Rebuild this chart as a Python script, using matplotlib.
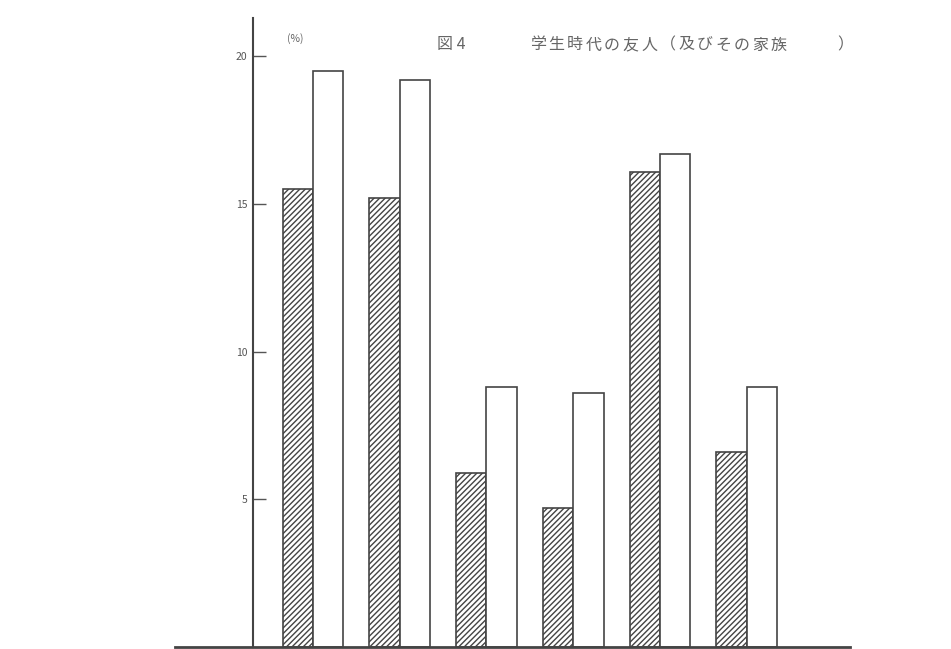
import matplotlib
matplotlib.use("Agg")
import matplotlib.pyplot as plt
import numpy as np

plt.rcParams['font.family'] = ['Noto Sans CJK JP', 'DejaVu Sans']

# 6 groups, hatched bar and white bar in each
groups = [1, 2, 3, 4, 5, 6]
hatched_vals = [15.5, 15.2, 5.9, 4.7, 16.1, 6.6]
white_vals = [19.5, 19.2, 8.8, 8.6, 16.7, 8.8]
yticks = [5, 10, 15, 20]
fig_label = "図 4"
title = "学生時代の友人（及びその家族）"

W, H = 951, 649
fig = plt.figure(figsize=(W / 100, H / 100), dpi=100)
ax = fig.add_axes([175 / W, 2 / H, (850 - 175) / W, (647 - 18) / H])

x = np.arange(len(groups))
w = 0.35
line_c = '#444444'
ax.bar(x - w / 2, hatched_vals, w, color='white', edgecolor=line_c,
       hatch='//////', linewidth=1.2)
ax.bar(x + w / 2, white_vals, w, color='white', edgecolor=line_c, linewidth=1.2)

ax.set_xlim(-1.59, 6.19)
ax.set_ylim(0, 21.3)

for s in ['top', 'right']:
    ax.spines[s].set_visible(False)
ax.spines['left'].set_position(('data', -0.692))
ax.spines['left'].set_color(line_c)
ax.spines['left'].set_linewidth(1.5)
ax.spines['bottom'].set_color(line_c)
ax.spines['bottom'].set_linewidth(2)

ax.set_xticks([])
ax.set_yticks(yticks)
ax.set_yticklabels([str(v) for v in yticks])
ax.tick_params(axis='y', direction='in', length=9, width=1, colors='#555555',
               labelsize=7.5, pad=4)

txt_c = '#666666'
ax.text(-0.2, 20.6, "(%)", fontsize=7.5, color=txt_c, ha='center', va='center')

# title, spaced out like the typeset original
ty = 1 - 45 / H
fig.text(451 / W, ty, fig_label, fontsize=11.5, color=txt_c, ha='center', va='center')
pitch = 18.5
for i, ch in enumerate(title):
    slot = i if i < len(title) - 1 else 16.6
    fig.text((538 + slot * pitch) / W, ty, ch, fontsize=11.5, color=txt_c,
             ha='center', va='center')

fig.savefig("out.png", dpi=100)
